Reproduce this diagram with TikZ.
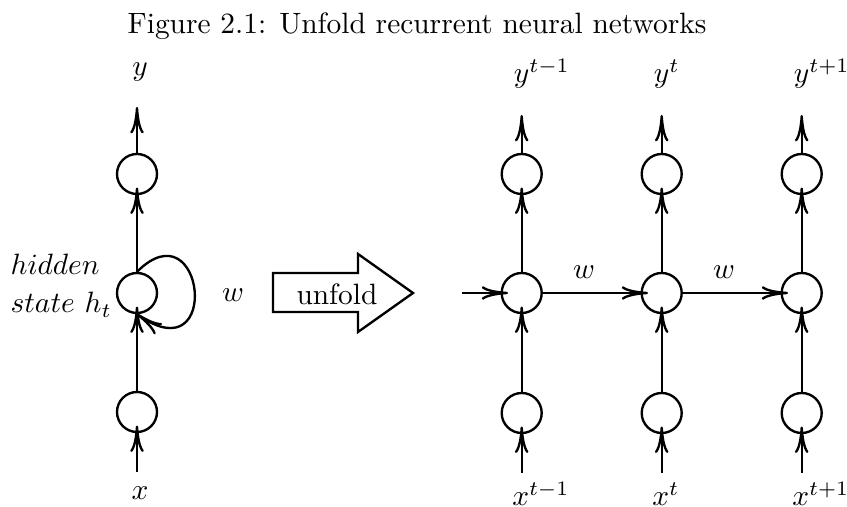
\documentclass[tikz,border=0pt]{standalone}
\usetikzlibrary{arrows.meta}
\begin{document}
\begin{tikzpicture}[x=0.34pt,y=-0.34pt,
  neuron/.style={circle,draw,thick,inner sep=0pt,minimum size=13.6pt},
  conn/.style={thick,-{To[length=9pt,width=4.6pt]}},
  into/.style={conn,shorten >=-2.6pt},
  lbl/.style={anchor=base,inner sep=0pt}]
\useasboundingbox (0,0) rectangle (847,507);
% title
\node[lbl] (title) at (417,34) {Figure 2.1: Unfold recurrent neural networks};
% left column
\node[neuron] (L1) at (137,412) {};
\node[neuron] (L2) at (137,293) {};
\node[neuron] (L3) at (137,174) {};
\coordinate (lin) at (137,472);
\coordinate (lout) at (137,107);
\draw[into] (lin) -- (L1);
\draw[into] (L1) -- (L2);
\draw[into] (L2) -- (L3);
\draw[conn] (L3) -- (lout);
\draw[conn] (L2.north) .. controls +(67,-67) and +(86,60) .. (L2.south);
\node[lbl] (ly) at (140,76) {$y$};
\node[lbl] (lx) at (140,500) {$x$};
\node[anchor=base west,inner sep=0pt] (hid1) at (10,275) {$hidden$};
\node[anchor=base west,inner sep=0pt] (hid2) at (10,313) {$state\ h_t$};
\node[lbl] (lw) at (233,302) {$w$};
% unfold arrow
\draw[thick] (273,273) -- (358,273) -- (358,254) -- (413,293) -- (358,332) -- (358,312) -- (273,312) -- cycle;
\node[lbl] (unf) at (337,305) {unfold};
% right columns
\foreach \i/\xx/\sup in {1/521.7/{t-1},2/661.7/{t},3/801.7/{t+1}} {
  \node[neuron] (B\i) at (\xx,413) {};
  \node[neuron] (H\i) at (\xx,293) {};
  \node[neuron] (T\i) at (\xx,174) {};
  \coordinate (xin\i) at (\xx,473);
  \coordinate (yout\i) at (\xx,115);
  \draw[into] (xin\i) -- (B\i);
  \draw[into] (B\i) -- (H\i);
  \draw[into] (H\i) -- (T\i);
  \draw[conn] (T\i) -- (yout\i);
  \node[lbl] (ylab\i) at (\xx,83) {$y\rlap{$^{\sup}$}$};
  \node[lbl] (xlab\i) at (\xx-1,506) {$x\rlap{$^{\sup}$}$};
}
\coordinate (hin) at (462,293);
\draw[into] (hin) -- (H1);
\draw[into] (H1) -- (H2);
\draw[into] (H2) -- (H3);
\node[lbl] (w1) at (584,279) {$w$};
\node[lbl] (w2) at (724,279) {$w$};
\end{tikzpicture}
\end{document}
